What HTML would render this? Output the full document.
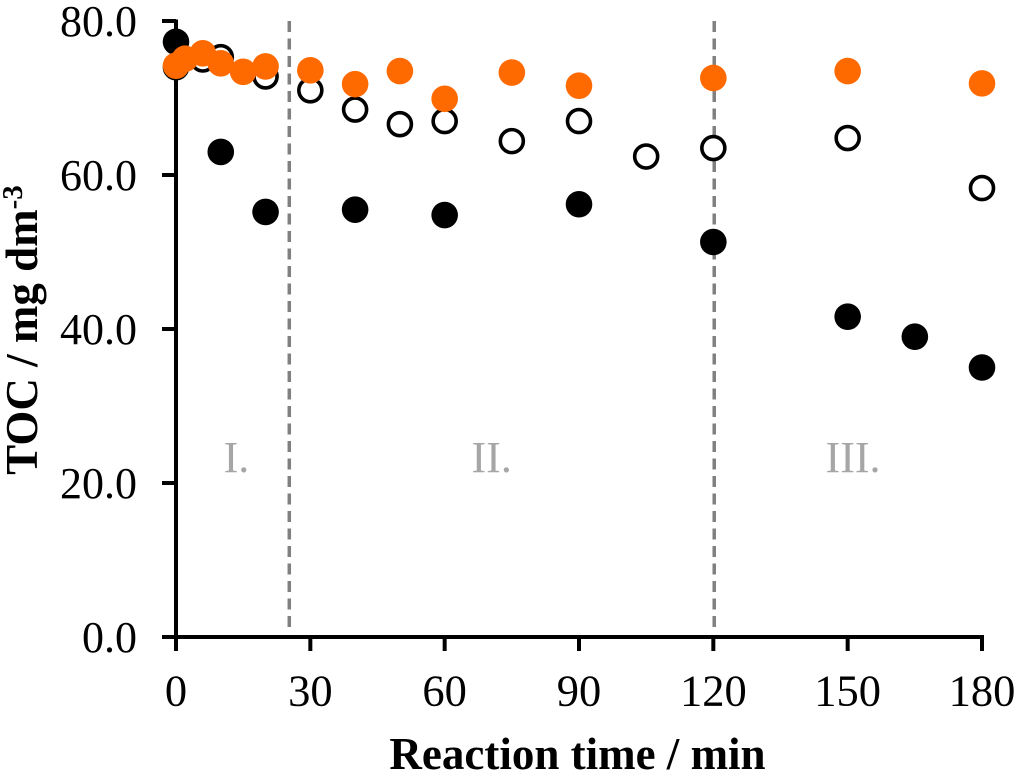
<!DOCTYPE html>
<html>
<head>
<meta charset="utf-8">
<style>
html,body{margin:0;padding:0;background:#fff;}
svg{display:block;font-family:"Liberation Serif",serif;}
</style>
</head>
<body>
<svg id="chart" xmlns="http://www.w3.org/2000/svg" width="1024" height="776" viewBox="0 0 1024 776"></svg>
<script>
const xTicks = [0, 30, 60, 90, 120, 150, 180];
const yTicks = [0, 20, 40, 60, 80];
const yTickLabels = ["0.0", "20.0", "40.0", "60.0", "80.0"];
const phaseBoundaries = [25.3, 120.2];
const phaseNames = ["I.", "II.", "III."];
const phaseCenters = [13.5, 70.5, 151.2];
const blackTimes = [0, 10, 20, 40, 60, 90, 120, 150, 165, 180];
const blackValues = [77.3, 63.0, 55.2, 55.5, 54.8, 56.2, 51.3, 41.6, 39.0, 35.0];
const openTimes = [0, 6, 10, 20, 30, 40, 50, 60, 75, 90, 105, 120, 150, 180];
const openValues = [74.0, 75.0, 75.3, 72.8, 71.0, 68.5, 66.6, 67.0, 64.4, 67.0, 62.4, 63.5, 64.8, 58.3];
const orangeTimes = [0, 2, 6, 10, 15, 20, 30, 40, 50, 60, 75, 90, 120, 150, 180];
const orangeValues = [74.2, 75.1, 75.8, 74.5, 73.4, 74.1, 73.6, 71.8, 73.5, 69.9, 73.3, 71.6, 72.6, 73.5, 71.9];

const NS = "http://www.w3.org/2000/svg";
const svg = document.getElementById("chart");
const xScale = v => 176 + v * (982 - 176) / 180;
const yScale = v => 637 - v * (637 - 21) / 80;

function make(tag, attrs, text) {
  const el = document.createElementNS(NS, tag);
  for (const k in attrs) el.setAttribute(k, attrs[k]);
  if (text !== undefined) el.textContent = text;
  svg.appendChild(el);
  return el;
}

phaseBoundaries.forEach(b => {
  const el = make("line", {x1: xScale(b), x2: xScale(b), y1: 21, y2: 632, stroke: "#808080", "stroke-width": 3.5, "stroke-dasharray": "11 6.5"});
  
  
});

phaseNames.forEach((n, i) => {
  const el = make("text", {x: xScale(phaseCenters[i]), y: 472, "text-anchor": "middle", "font-size": 44, fill: "#a6a6a6"}, n);
  
  
});

const yAxis = make("line", {x1: 176, x2: 176, y1: 19.5, y2: 651, stroke: "#000", "stroke-width": 4});


const xAxis = make("line", {x1: 162, x2: 984, y1: 637, y2: 637, stroke: "#000", "stroke-width": 4});



yTicks.forEach((t, i) => {
  const tick = make("line", {x1: 162, x2: 176, y1: yScale(t), y2: yScale(t), stroke: "#000", "stroke-width": 4});
  
  
  const label = make("text", {x: 137, y: yScale(t) + 15, "text-anchor": "end", "font-size": 44, fill: "#000"}, yTickLabels[i]);
  
  
});

xTicks.forEach(t => {
  const tick = make("line", {x1: xScale(t), x2: xScale(t), y1: 637, y2: 651, stroke: "#000", "stroke-width": 4});
  
  
  const label = make("text", {x: xScale(t), y: 705.5, "text-anchor": "middle", "font-size": 44.5, fill: "#000"}, String(t));
  
  
});

blackTimes.forEach((t, i) => {
  const el = make("circle", {cx: xScale(t), cy: yScale(blackValues[i]), r: 13.3, fill: "#000"});
  
  
});
openTimes.forEach((t, i) => {
  const el = make("circle", {cx: xScale(t), cy: yScale(openValues[i]), r: 11.5, fill: "#fff", stroke: "#000", "stroke-width": 3.6});
  
  
});
orangeTimes.forEach((t, i) => {
  const el = make("circle", {cx: xScale(t), cy: yScale(orangeValues[i]), r: 13.3, fill: "#ff6a00"});
  
  
});

const xTitle = make("text", {x: 577.5, y: 769, "text-anchor": "middle", "font-size": 45, "font-weight": "bold", fill: "#000"}, "Reaction time / min");



const yTitle = make("text", {transform: "translate(37,330) rotate(-90)", "text-anchor": "middle", "font-size": 45, "font-weight": "bold", fill: "#000"}, "TOC / mg dm");


const sup = document.createElementNS(NS, "tspan");
sup.setAttribute("font-size", "29");
sup.setAttribute("dy", "-15");
sup.textContent = "-3";


yTitle.appendChild(sup);
</script>
</body>
</html>
